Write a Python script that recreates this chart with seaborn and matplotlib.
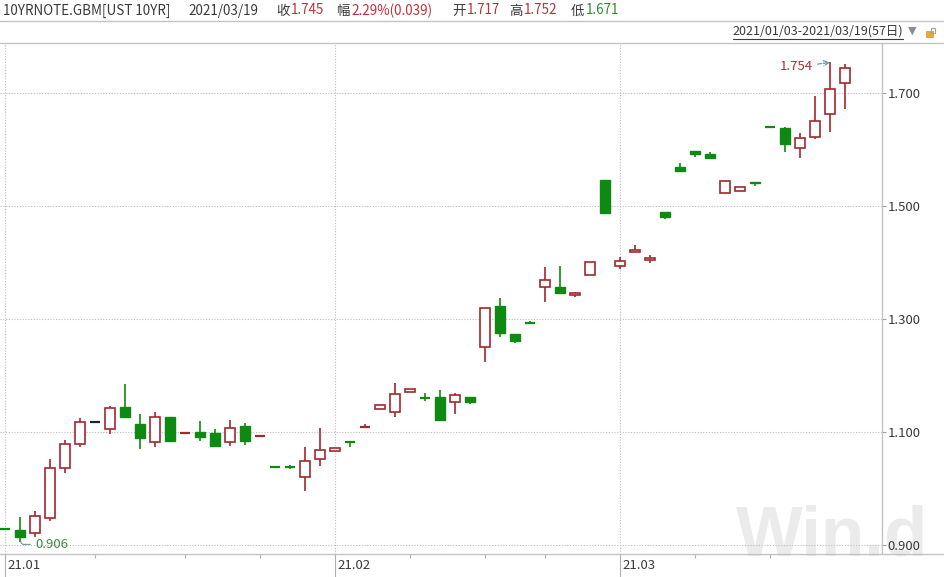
import matplotlib
matplotlib.use("Agg")
import matplotlib.pyplot as plt
from matplotlib.lines import Line2D
from matplotlib.patches import Rectangle
import seaborn as sns
import pandas as pd

# ---- data (57 daily candles, 2021/01/03 - 2021/03/19) ----
opens = [0.929, 0.927, 0.921, 0.948, 1.036, 1.079, 1.118, 1.105, 1.144, 1.114,
         1.082, 1.127, 1.097, 1.100, 1.098, 1.082, 1.111, 1.092, 1.039, 1.039,
         1.020, 1.052, 1.066, 1.082, 1.108, 1.141, 1.135, 1.171, 1.161, 1.162,
         1.153, 1.162, 1.250, 1.323, 1.273, 1.294, 1.357, 1.357, 1.342, 1.378,
         1.546, 1.394, 1.419, 1.404, 1.489, 1.569, 1.597, 1.592, 1.523, 1.527,
         1.543, 1.641, 1.638, 1.603, 1.622, 1.663, 1.717]
highs = [0.929, 0.950, 0.960, 1.052, 1.086, 1.125, 1.118, 1.146, 1.185, 1.132,
         1.135, 1.127, 1.098, 1.119, 1.105, 1.121, 1.116, 1.093, 1.039, 1.042,
         1.073, 1.107, 1.072, 1.083, 1.114, 1.148, 1.187, 1.176, 1.169, 1.174,
         1.169, 1.162, 1.319, 1.337, 1.273, 1.296, 1.392, 1.394, 1.348, 1.401,
         1.546, 1.410, 1.431, 1.413, 1.489, 1.576, 1.597, 1.596, 1.544, 1.534,
         1.543, 1.641, 1.640, 1.629, 1.695, 1.754, 1.752]
lows = [0.928, 0.906, 0.914, 0.942, 1.027, 1.073, 1.118, 1.096, 1.127, 1.070,
        1.073, 1.082, 1.097, 1.084, 1.075, 1.075, 1.077, 1.092, 1.038, 1.035,
        0.996, 1.040, 1.066, 1.074, 1.108, 1.141, 1.127, 1.171, 1.155, 1.119,
        1.132, 1.150, 1.224, 1.268, 1.258, 1.291, 1.330, 1.345, 1.339, 1.378,
        1.485, 1.388, 1.419, 1.399, 1.477, 1.562, 1.587, 1.583, 1.523, 1.527,
        1.536, 1.640, 1.596, 1.585, 1.618, 1.631, 1.671]
closes = [0.928, 0.914, 0.951, 1.036, 1.079, 1.118, 1.118, 1.142, 1.127, 1.089,
          1.127, 1.084, 1.098, 1.091, 1.075, 1.107, 1.084, 1.093, 1.038, 1.038,
          1.049, 1.068, 1.071, 1.081, 1.110, 1.148, 1.167, 1.176, 1.159, 1.121,
          1.165, 1.153, 1.319, 1.275, 1.261, 1.293, 1.369, 1.346, 1.346, 1.401,
          1.488, 1.403, 1.422, 1.408, 1.481, 1.562, 1.592, 1.585, 1.544, 1.534,
          1.540, 1.640, 1.610, 1.620, 1.650, 1.707, 1.745]

month_ticks = [0, 22, 41]
month_labels = ["21.01", "21.02", "21.03"]
week_ticks = [6, 12, 17, 27, 32, 36, 46, 51]
y_ticks = [0.900, 1.100, 1.300, 1.500, 1.700]

df = pd.DataFrame({"open": opens, "high": highs, "low": lows, "close": closes})
df["idx"] = range(len(df))

RED = "#A3282E"
GREEN = "#0E8A12"
DARK = "#222222"
TXT = "#3A3A3A"
W, H = 945, 577


def px(x, y):
    return x / W, 1 - y / H


sns.set_theme(style="white")
plt.rcParams["font.family"] = ["Noto Sans CJK SC", "DejaVu Sans"]

fig = plt.figure(figsize=(9.45, 5.77), dpi=100)
fig.patch.set_facecolor("white")
ax = fig.add_axes([0, 23 / H, 882 / W, (554 - 43) / H])
ax.patch.set_alpha(0)
for s in ax.spines.values():
    s.set_visible(False)

ax.set_xlim(-5 / 15, 877 / 15)
ax.set_ylim(0.884, 0.884 + 511 / 565)

# grid
for yv in y_ticks:
    ax.axhline(yv, color="#BDBDBD", lw=0.8, ls=(0, (1, 1.5)), zorder=1)
for xv in month_ticks:
    ax.axvline(xv, color="#BDBDBD", lw=0.8, ls=(0, (1, 1.5)), zorder=1)

# candles
bw = 0.72
for _, r in df.iterrows():
    o, h, l, c, i = r["open"], r["high"], r["low"], r["close"], r["idx"]
    if c > o:
        col = RED
    elif c < o:
        col = GREEN
    else:
        col = DARK
    if h > l:
        ax.vlines(i, l, h, color=col, lw=1.2, zorder=3)
    if abs(c - o) < 0.0025:
        ax.hlines((o + c) / 2, i - bw / 2, i + bw / 2, color=col, lw=1.6, zorder=4)
    elif c > o:
        ax.bar(i, c - o, bottom=o, width=bw, facecolor="white",
               edgecolor=RED, linewidth=1.2, zorder=4)
    else:
        ax.bar(i, o - c, bottom=c, width=bw, facecolor=GREEN,
               edgecolor=GREEN, linewidth=1.0, zorder=4)

# max / min annotations
imax = df["high"].idxmax()
imin = df["low"].idxmin()
ax.annotate(f"{df['high'][imax]:.3f}", xy=(imax, df["high"][imax]),
            xytext=(imax - 1.15, df["high"][imax] - 0.008),
            ha="right", va="center", fontsize=9.5, color="#A8323A",
            arrowprops=dict(arrowstyle="->", ls="--", color="#5C8CA0", lw=0.8,
                            shrinkA=1, shrinkB=0), zorder=6)
ax.annotate(f"{df['low'][imin]:.3f}", xy=(imin + 0.05, df["low"][imin]),
            xytext=(imin + 1.0, df["low"][imin] - 0.005),
            ha="left", va="center", fontsize=9.5, color="#3F8A3F",
            arrowprops=dict(arrowstyle="-", color="#6A9A9A", lw=0.8,
                            connectionstyle="angle,angleA=0,angleB=90,rad=3",
                            shrinkA=1, shrinkB=0), zorder=6)

# y axis on the right
ax.yaxis.tick_right()
ax.set_yticks(y_ticks)
ax.set_yticklabels([f"{v:.3f}" for v in y_ticks], fontsize=9.5, color=TXT)
ax.tick_params(axis="y", length=3, width=0.8, color="#A0A0A0", pad=1, right=True)

# x axis: week ticks short, month ticks long with labels to the right
ax.set_xticks(week_ticks)
ax.set_xticklabels([])
ax.tick_params(axis="x", length=3, width=0.8, color="#B0B0B0", bottom=True)
for xv, lab in zip(month_ticks, month_labels):
    ax.plot([xv, xv], [0, -23 / 511], transform=ax.get_xaxis_transform(),
            color="#B0B0B0", lw=0.8, clip_on=False)
    ax.annotate(lab, xy=(xv, 0), xycoords=("data", "axes fraction"),
                xytext=(1.5, -8), textcoords="offset points",
                ha="left", va="center", fontsize=9.5, color=TXT,
                annotation_clip=False)

# frame lines
for (x0, y0, x1, y1) in [(0, 21, W, 21), (0, 43, W, 43), (0, 554, W, 554), (882, 43, 882, 554)]:
    a, b = px(x0, y0)
    c_, d = px(x1, y1)
    fig.add_artist(Line2D([a, c_], [b, d], color="#C4C4C4", lw=1.0))

# watermark
ax.text(*px(736, 537), "Win.d", transform=fig.transFigure, fontsize=51,
        fontweight="bold", color="#EBEBEB", family="Liberation Sans",
        ha="left", va="center", zorder=0, clip_on=False)

# header
hdr = [
    (3, "10YRNOTE.GBM[UST 10YR]", TXT),
    (188, "2021/03/19", TXT),
    (276, "收", TXT), (291, "1.745", "#C0303A"),
    (336, "幅", TXT), (351, "2.29%(0.039)", "#C0303A"),
    (452, "开", TXT), (467, "1.717", "#C0303A"),
    (509, "高", TXT), (524, "1.752", "#C0303A"),
    (571, "低", TXT), (586, "1.671", "#2E8B2E"),
]
for x, s, col in hdr:
    fig.text(*px(x, 10.5), s, fontsize=9.7, color=col, ha="left", va="center")

fig.text(*px(903, 31), "2021/01/03-2021/03/19(57日)", fontsize=9, color=TXT,
         ha="right", va="center")
a, b = px(733, 38.5)
c_, d = px(903, 38.5)
fig.add_artist(Line2D([a, c_], [b, d], color=TXT, lw=0.8))
fig.text(*px(912, 31), "▼", fontsize=8, color="#8C8C8C", ha="center",
         va="center", family="DejaVu Sans")
fig.add_artist(Rectangle(px(926, 38), 8 / W, 7 / H, transform=fig.transFigure,
                         facecolor="#E8A640", edgecolor="none"))
fig.add_artist(Rectangle(px(931, 33), 4 / W, 5 / H, transform=fig.transFigure,
                         facecolor="none", edgecolor="#A0A0A0", lw=0.8))

fig.savefig("out.png", dpi=100)
